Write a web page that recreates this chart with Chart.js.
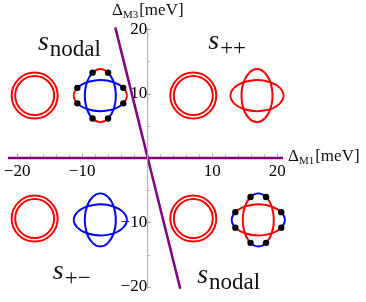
<!DOCTYPE html>
<html>
<head>
<meta charset="utf-8">
<script src="https://cdn.jsdelivr.net/npm/chart.js@4"></script>
<style>
html, body { margin: 0; padding: 0; background: #fff; }
canvas { display: block; }
</style>
</head>
<body>
<canvas id="chart" width="366" height="302"></canvas>
<script>
// phase boundaries (meV)
const horizX = [-21.4, 20.9];
const horizY = [0, 0];
const diagX = [-4.9, 5.1];
const diagY = [20.3, -20.3];

// axis ticks
const xTicks = [-20, -10, 10, 20];
const yTicks = [-20, -10, 10, 20];
const xMinor = [-18, -16, -14, -12, -8, -6, -4, -2, 2, 4, 6, 8, 12, 14, 16, 18];
const yMinor = [-15, -5, 5, 15];

// gap sketches, centres in meV
const ringX = [-17.3, 7.1, -17.3, 7.1];
const ringY = [9.7, 9.7, -9.4, -9.4];
const crossX = [-7.2, 16.9, -7.2, 17.1];
const crossY = [9.7, 9.7, -9.6, -9.6];
const crossTip = ['red', 'red', 'blue', 'blue'];
const crossMid = ['blue', 'red', 'blue', 'red'];
const crossNodes = [true, false, false, true];

// region names
const labelSub = ['nodal', '++', '+\u2212', 'nodal'];
const labelX = [-16.8, 9.4, -14.5, 7.7];
const labelY = [16.8, 16.9, -18.8, -19.4];

const SERIF = '"Liberation Serif", "DejaVu Serif", serif';
const COLORS = { red: '#ff0000', blue: '#0000ff' };

function fmt(v) {
    return v < 0 ? '\u2212' + Math.abs(v) : String(v);
}

function drawCross(ctx, cx, cy, tip, mid, nodes) {
    const a = 26.5, b = 15.5, n = 30 * Math.PI / 180;
    const P = Math.PI;
    ctx.lineWidth = 2;
    // horizontal and vertical ellipses, tips and middles
    const segs = [
        [a, b, -n, n, tip], [a, b, P - n, P + n, tip],
        [b, a, P / 2 - n, P / 2 + n, tip], [b, a, 1.5 * P - n, 1.5 * P + n, tip],
        [a, b, n, P - n, mid], [a, b, P + n, 2 * P - n, mid],
        [b, a, P / 2 + n, 1.5 * P - n, mid], [b, a, 1.5 * P + n, 2.5 * P - n, mid]
    ];
    const order = tip === 'blue' ? segs : segs.slice(4).concat(segs.slice(0, 4));
    order.forEach(s => {
        ctx.strokeStyle = COLORS[s[4]];
        ctx.beginPath();
        ctx.ellipse(cx, cy, s[0], s[1], 0, s[2], s[3]);
        ctx.stroke();
    });
    if (nodes) {
        ctx.fillStyle = '#000';
        [n, P - n, P + n, -n].forEach(t => {
            ctx.beginPath();
            ctx.arc(cx + a * Math.cos(t), cy + b * Math.sin(t), 3.2, 0, 2 * P);
            ctx.fill();
            ctx.beginPath();
            ctx.arc(cx + b * Math.sin(t), cy + a * Math.cos(t), 3.2, 0, 2 * P);
            ctx.fill();
        });
    }
}

const sketches = {
    id: 'sketches',
    afterDatasetsDraw(chart) {
        const ctx = chart.ctx;
        const xs = chart.scales.x, ys = chart.scales.y;
        const x0 = xs.getPixelForValue(0), y0 = ys.getPixelForValue(0);
        ctx.save();

        // vertical axis and tick marks
        ctx.strokeStyle = '#aaa';
        ctx.lineWidth = 1;
        ctx.beginPath();
        ctx.moveTo(x0 + 0.5, ys.getPixelForValue(ys.max));
        ctx.lineTo(x0 + 0.5, ys.getPixelForValue(ys.min));
        yTicks.concat(yMinor).forEach(v => {
            const len = yTicks.includes(v) ? 4 : 2.5;
            const py = Math.round(ys.getPixelForValue(v)) + 0.5;
            ctx.moveTo(x0, py);
            ctx.lineTo(x0 + len, py);
        });
        xTicks.concat(xMinor).forEach(v => {
            const len = xTicks.includes(v) ? 4 : 2.5;
            const px = Math.round(xs.getPixelForValue(v)) + 0.5;
            ctx.moveTo(px, y0 - 1);
            ctx.lineTo(px, y0 - 1 - len);
        });
        ctx.stroke();

        // double rings
        ctx.strokeStyle = COLORS.red;
        ctx.lineWidth = 2;
        ringX.forEach((v, i) => {
            const cx = xs.getPixelForValue(v), cy = ys.getPixelForValue(ringY[i]);
            [23, 19.5].forEach(r => {
                ctx.beginPath();
                ctx.arc(cx, cy, r, 0, 2 * Math.PI);
                ctx.stroke();
            });
        });

        // crossed ellipses
        crossX.forEach((v, i) => {
            drawCross(ctx, xs.getPixelForValue(v), ys.getPixelForValue(crossY[i]),
                crossTip[i], crossMid[i], crossNodes[i]);
        });

        // region names
        ctx.fillStyle = '#111';
        ctx.textBaseline = 'alphabetic';
        ctx.textAlign = 'left';
        labelX.forEach((v, i) => {
            const px = xs.getPixelForValue(v), py = ys.getPixelForValue(labelY[i]);
            ctx.font = 'italic 28px ' + SERIF;
            ctx.fillText('s', px, py);
            const w = ctx.measureText('s').width;
            ctx.font = '23px ' + SERIF;
            ctx.fillText(labelSub[i], px + w + 1, py + 6);
        });

        // axis titles
        const title = (x, y, sub) => {
            ctx.font = '17px ' + SERIF;
            ctx.fillText('\u0394', x, y);
            let w = ctx.measureText('\u0394').width;
            ctx.font = '11px ' + SERIF;
            ctx.fillText(sub, x + w, y + 3);
            w += ctx.measureText(sub).width;
            ctx.font = '17px ' + SERIF;
            ctx.fillText('[meV]', x + w + 1, y);
        };
        title(112, 15, 'M3');
        title(288, 161, 'M1');
        ctx.restore();
    }
};

new Chart(document.getElementById('chart'), {
    type: 'scatter',
    data: {
        datasets: [
            {
                data: horizX.map((v, i) => ({ x: v, y: horizY[i] })),
                showLine: true, borderColor: '#800080', borderWidth: 2.5,
                pointRadius: 0, clip: false
            },
            {
                data: diagX.map((v, i) => ({ x: v, y: diagY[i] })),
                showLine: true, borderColor: '#800080', borderWidth: 2.5,
                pointRadius: 0, clip: false
            }
        ]
    },
    options: {
        responsive: false,
        animation: false,
        devicePixelRatio: 1,
        layout: { padding: { left: 8, right: 83, top: 28, bottom: 9 } },
        plugins: { legend: { display: false }, tooltip: { enabled: false } },
        scales: {
            x: {
                type: 'linear', min: -21.4, max: 20.9, position: { y: 0 },
                afterBuildTicks: s => { s.ticks = xTicks.map(v => ({ value: v })); },
                ticks: {
                    callback: v => fmt(v), autoSkip: false, maxRotation: 0, padding: 3,
                    color: '#000', font: { family: SERIF, size: 17 }
                },
                grid: { display: false, drawTicks: false },
                border: { display: false }
            },
            y: {
                type: 'linear', min: -20.3, max: 20.2, position: { x: 0 },
                afterBuildTicks: s => { s.ticks = yTicks.map(v => ({ value: v })); },
                ticks: {
                    callback: v => fmt(v), autoSkip: false, padding: 3,
                    color: '#000', font: { family: SERIF, size: 17 }
                },
                grid: { display: false, drawTicks: false },
                border: { display: false }
            }
        }
    },
    plugins: [sketches]
});
</script>
</body>
</html>
